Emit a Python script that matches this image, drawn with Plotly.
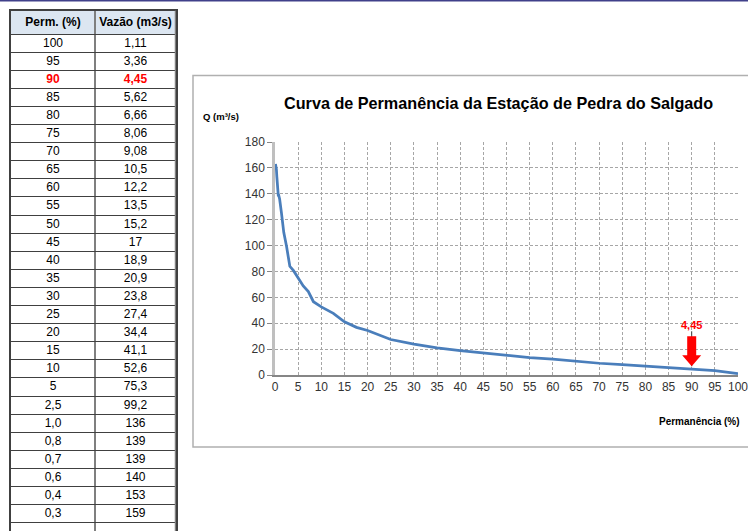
import plotly.graph_objects as go

# ---------------- data ----------------
perm = [100, 95, 90, 85, 80, 75, 70, 65, 60, 55, 50, 45, 40, 35, 30, 25, 20, 15,
        10, 5, 2.5, 1.0, 0.8, 0.7, 0.6, 0.4, 0.3, 0.1]
vazao = [1.11, 3.36, 4.45, 5.62, 6.66, 8.06, 9.08, 10.5, 12.2, 13.5, 15.2, 17, 18.9,
         20.9, 23.8, 27.4, 34.4, 41.1, 52.6, 75.3, 99.2, 136, 139, 139, 140, 153, 159, 163]
# extra points of the plotted curve
curve_perm_extra = [1.4, 1.9, 2.9, 3.2, 4.0, 6.1, 7.2, 8.3, 12.6, 17.6, 22.7]
curve_q_extra = [125, 110, 90, 84, 80.6, 68.8, 64.4, 56.6, 47.6, 36.8, 30.9]
table_headers = ["Perm. (%)", "Vazão (m3/s)"]
highlight_perm = 90
highlight_q = 4.45
x_ticks = list(range(0, 101, 5))
y_ticks = list(range(0, 181, 20))

W, H = 748, 531
FONT = "Liberation Sans, Arial, sans-serif"


def fmt_perm(p):
    s = f"{p:.1f}" if p < 5 else f"{p:g}"
    return s.replace(".", ",")


def fmt_q(q):
    return f"{q:.3g}".replace(".", ",")


fig = go.Figure()

# ---------------- table (own axes: x2 / y2 in pixel-like units) ----------------
HEAD_H, ROW_H = 23.5, 18.1
COL_W = [84, 81]
TAB_TOP, TAB_LEFT = 10.5, 11
tab_h = H - TAB_TOP
n = len(perm)
row_centers = [HEAD_H + ROW_H * (i + 0.5) for i in range(n)]
row_bounds = [HEAD_H + ROW_H * i for i in range(n + 1)]

fig.add_shape(type="rect", xref="x2", yref="y2", x0=0, x1=sum(COL_W), y0=0, y1=HEAD_H,
              fillcolor="#dce6f1", line=dict(width=0), layer="below")

txt_x, txt_y, txt, txt_c = [], [], [], []
for j, h in enumerate(table_headers):
    txt_x.append(sum(COL_W[:j]) + COL_W[j] / 2)
    txt_y.append(HEAD_H / 2 + 0.5)
    txt.append(f"<b>{h}</b>")
    txt_c.append("#000000")
for i, (p, q) in enumerate(zip(perm, vazao)):
    hl = p == highlight_perm
    for j, s in enumerate([fmt_perm(p), fmt_q(q)]):
        txt_x.append(sum(COL_W[:j]) + COL_W[j] / 2)
        txt_y.append(row_centers[i] + 0.5)
        txt.append(f"<b>{s}</b>" if hl else s)
        txt_c.append("#ff0000" if hl else "#000000")

fig.add_trace(go.Scatter(x=txt_x, y=txt_y, text=txt, mode="text", xaxis="x2", yaxis="y2",
                         textfont=dict(family=FONT, size=12, color=txt_c),
                         hoverinfo="skip", showlegend=False, cliponaxis=False))

# ---------------- curve ----------------
pts = sorted(list(zip(perm, vazao)) + list(zip(curve_perm_extra, curve_q_extra)))
fig.add_trace(go.Scatter(x=[a for a, _ in pts], y=[b for _, b in pts], mode="lines",
                         line=dict(color="#4a7ebb", width=2.75),
                         hoverinfo="skip", showlegend=False))

x0p, x1p = 275 / W, 738 / W
y0p, y1p = 1 - 375 / H, 1 - 142 / H

fig.update_layout(
    width=W, height=H, margin=dict(l=0, r=0, t=0, b=0),
    paper_bgcolor="white", plot_bgcolor="rgba(0,0,0,0)", showlegend=False,
    font=dict(family=FONT, size=12, color="#333333"),
    xaxis=dict(domain=[x0p, x1p], range=[0, 100], tickvals=x_ticks,
               showgrid=True, gridcolor="#a6a6a6", griddash="3px,2px", gridwidth=1,
               showline=True, linecolor="#868686", linewidth=1.5,
               zeroline=False, ticks="", automargin=False, fixedrange=True,
               ticklabeloverflow="allow",
               tickfont=dict(size=12, color="#333333")),
    yaxis=dict(domain=[y0p, y1p], range=[0, 180], tickvals=y_ticks,
               showgrid=True, gridcolor="#a6a6a6", griddash="3px,2px", gridwidth=1,
               showline=True, linecolor="#bfbfbf", linewidth=2.5,
               zeroline=False, ticks="outside", ticklen=5, tickcolor="#868686",
               automargin=False, fixedrange=True, ticklabeloverflow="allow",
               tickfont=dict(size=12, color="#333333")),
    xaxis2=dict(domain=[TAB_LEFT / W, (TAB_LEFT + sum(COL_W)) / W], range=[0, sum(COL_W)],
                anchor="y2", tickvals=[COL_W[0]], showticklabels=False, ticks="",
                showgrid=True, gridcolor="#7f7f7f", gridwidth=2, zeroline=False,
                showline=True, mirror=True, linecolor="#404040", linewidth=1.5,
                fixedrange=True, automargin=False),
    yaxis2=dict(domain=[0, 1 - TAB_TOP / H], range=[tab_h, 0], anchor="x2",
                tickvals=row_bounds, showticklabels=False, ticks="",
                showgrid=True, gridcolor="#404040", gridwidth=1, zeroline=False,
                showline=True, mirror=True, linecolor="#404040", linewidth=1.5,
                fixedrange=True, automargin=False),
)

# right border of the table (thicker grey)
fig.add_shape(type="line", xref="x2", yref="y2", x0=sum(COL_W), x1=sum(COL_W),
              y0=0, y1=tab_h, line=dict(color="#808080", width=2.5))

# chart frame and top band
fig.add_shape(type="rect", xref="paper", yref="paper",
              x0=193 / W, x1=1.01, y0=1 - 447 / H, y1=1 - 75.5 / H,
              line=dict(color="#b0b0b0", width=1.5), fillcolor="rgba(0,0,0,0)",
              layer="below")
fig.add_shape(type="line", xref="paper", yref="paper", x0=0, x1=1, y0=1 - 0.75 / H,
              y1=1 - 0.75 / H, line=dict(color="#40408a", width=1.5))

# arrow marking the highlighted point
fig.add_shape(type="line", xref="x", yref="y", xsizemode="pixel", ysizemode="pixel",
              xanchor=highlight_perm, yanchor=highlight_q,
              x0=0, x1=0, y0=3, y1=38, line=dict(color="#404040", width=1))
fig.add_shape(type="path", xref="x", yref="y", xsizemode="pixel", ysizemode="pixel",
              xanchor=highlight_perm, yanchor=highlight_q,
              path="M 0 3 L -9.5 14 L -4.5 14 L -4.5 33 L 4.5 33 L 4.5 14 L 9.5 14 Z",
              fillcolor="#ff0000", line=dict(width=0))

fig.add_annotation(x=highlight_perm, y=highlight_q, xref="x", yref="y",
                   text=f"<b>{fmt_q(highlight_q)}</b>", showarrow=False, yshift=44,
                   xanchor="center", yanchor="middle",
                   font=dict(family=FONT, size=11, color="#ff0000"))

fig.add_annotation(x=498 / W, y=1 - 103 / H, xref="paper", yref="paper",
                   xanchor="center", yanchor="middle",
                   text="<b>Curva de Permanência da Estação de Pedra do Salgado</b>",
                   showarrow=False, font=dict(family=FONT, size=16.2, color="#000000"))
fig.add_annotation(x=201 / W, y=1 - 116 / H, xref="paper", yref="paper",
                   xanchor="left", yanchor="middle", text="<b>Q (m³/s)</b>", showarrow=False,
                   font=dict(family=FONT, size=9.5, color="#000000"))
fig.add_annotation(x=742 / W, y=1 - 421 / H, xref="paper", yref="paper",
                   xanchor="right", yanchor="middle", text="<b>Permanência (%)</b>",
                   showarrow=False, font=dict(family=FONT, size=10, color="#000000"))

fig.write_html("out.html", config={"displayModeBar": False},
               post_script="document.body.style.margin='0';")
